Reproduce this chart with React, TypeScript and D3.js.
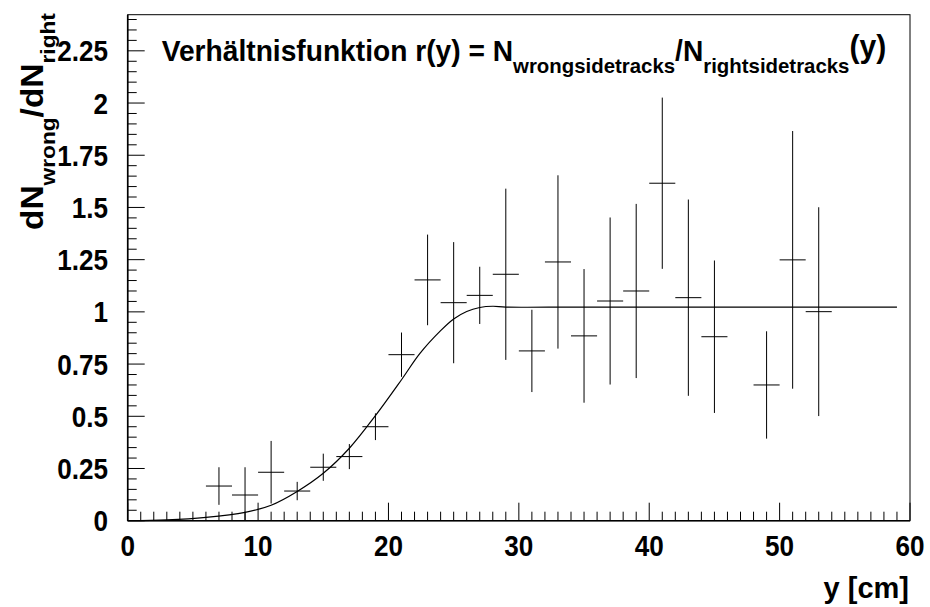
import React, { useLayoutEffect, useRef, useState } from 'react';
import * as d3 from 'd3';

// ---- data ----
const binCenters = [7, 9, 11, 13, 15, 17, 19, 21, 23, 25, 27, 29, 31, 33, 35, 37, 39, 41, 43, 45, 49, 51, 53];
const ratios = [0.166, 0.123, 0.232, 0.142, 0.256, 0.307, 0.45, 0.795, 1.153, 1.044, 1.079, 1.18, 0.813, 1.239, 0.885, 1.052, 1.1, 1.616, 1.068, 0.881, 0.65, 1.249, 1.001];
const ratioErrors = [0.09, 0.133, 0.15, 0.044, 0.065, 0.06, 0.064, 0.106, 0.217, 0.29, 0.137, 0.41, 0.197, 0.415, 0.32, 0.4, 0.417, 0.41, 0.47, 0.365, 0.257, 0.617, 0.5];
const binHalfWidth = 1;

const fitX = [0, 3, 6, 9, 11, 13, 15, 17, 19, 21, 22.4, 24, 25, 26, 27, 28, 29, 35, 59];
const fitY = [0, 0.004, 0.016, 0.04, 0.074, 0.14, 0.227, 0.347, 0.503, 0.675, 0.8, 0.91, 0.966, 1.002, 1.021, 1.027, 1.023, 1.023, 1.023];

const xTickValues = [0, 10, 20, 30, 40, 50, 60];
const xTickLabels = ['0', '10', '20', '30', '40', '50', '60'];
const yTickValues = [0, 0.25, 0.5, 0.75, 1, 1.25, 1.5, 1.75, 2, 2.25];
const yTickLabels = ['0', '0.25', '0.5', '0.75', '1', '1.25', '1.5', '1.75', '2', '2.25'];

const xDomain = [0, 60];
const yDomain = [0, 2.423];

const FONT = "'Liberation Sans', Arial, Helvetica, sans-serif";

function FitText(props: { x: number; y: number; width: number; rotate?: number; children: React.ReactNode }) {
  const ref = useRef<SVGTextElement>(null);
  const [s, setS] = useState(1);
  useLayoutEffect(() => {
    if (ref.current) {
      const w = ref.current.getBBox().width;
      if (w > 0) setS(props.width / w);
    }
  }, []);
  return (
    <g transform={`translate(${props.x},${props.y}) rotate(${props.rotate || 0}) scale(${s},1)`}>
      <text ref={ref} fontFamily={FONT} fontWeight="bold" fill="#000">
        {props.children}
      </text>
    </g>
  );
}

export default function App() {
  const W = 930, H = 607;
  const left = 127.7, right = 910, top = 14.7, bottom = 520.7;
  const x = d3.scaleLinear().domain(xDomain).range([left, right]);
  const y = d3.scaleLinear().domain(yDomain).range([bottom, top]);

  const xMinor = d3.range(0, 61, 1);
  const yMinor = d3.range(0, 2.4001, 0.05);

  const line = d3
    .line<number>()
    .x((_, i) => x(fitX[i]))
    .y((_, i) => y(fitY[i]))
    .curve(d3.curveCatmullRom.alpha(0.5));

  return (
    <svg width={W} height={H} style={{ position: 'absolute', left: 0, top: 0, background: '#fff' }}>
      <rect x={0} y={0} width={W} height={H} fill="#fff" />
      {/* frame */}
      <rect x={left} y={top} width={right - left} height={bottom - top} fill="none" stroke="#000" strokeWidth={1} />
      <line x1={left} x2={right} y1={bottom} y2={bottom} stroke="#000" strokeWidth={1.6} />
      <line x1={left} x2={left} y1={bottom} y2={top} stroke="#000" strokeWidth={1.6} />

      {/* x ticks */}
      {xMinor.map((v) => (
        <line key={'xm' + v} x1={x(v)} x2={x(v)} y1={bottom} y2={bottom - (v % 10 === 0 ? 18 : 9)} stroke="#000" strokeWidth={1} />
      ))}
      {/* y ticks */}
      {yMinor.map((v, i) => (
        <line key={'ym' + i} x1={left} x2={left + (i % 5 === 0 ? 17 : 9)} y1={y(v)} y2={y(v)} stroke="#000" strokeWidth={1} />
      ))}

      {/* x tick labels */}
      {xTickValues.map((v, i) => (
        <g key={'xl' + v} transform={`translate(${x(v)},556) scale(0.9,1)`}>
          <text textAnchor="middle" fontFamily={FONT} fontWeight="bold" fontSize={29}>
            {xTickLabels[i]}
          </text>
        </g>
      ))}
      {/* y tick labels */}
      {yTickValues.map((v, i) => (
        <g key={'yl' + v} transform={`translate(108,${y(v) + 10.5}) scale(0.9,1)`}>
          <text textAnchor="end" fontFamily={FONT} fontWeight="bold" fontSize={29}>
            {yTickLabels[i]}
          </text>
        </g>
      ))}

      {/* fit curve */}
      <path d={line(fitX) || ''} fill="none" stroke="#000" strokeWidth={1.2} />

      {/* data with error bars */}
      {binCenters.map((c, i) => {
        const v = ratios[i];
        const e = ratioErrors[i];
        const lo = Math.max(yDomain[0], v - e);
        const hi = Math.min(yDomain[1], v + e);
        return (
          <g key={'p' + c} stroke="#000" strokeWidth={1}>
            <line x1={x(c - binHalfWidth)} x2={x(c + binHalfWidth)} y1={y(v)} y2={y(v)} />
            <line x1={x(c)} x2={x(c)} y1={y(lo)} y2={y(hi)} />
          </g>
        );
      })}

      {/* title */}
      <FitText x={161.7} y={61} width={725}>
        <tspan fontSize={29}>Verhältnisfunktion r(y) = N</tspan>
        <tspan fontSize={21} dy={11.5}>wrongsidetracks</tspan>
        <tspan fontSize={29} dy={-11.5}>/N</tspan>
        <tspan fontSize={21} dy={11.5}>rightsidetracks</tspan>
        <tspan fontSize={31} dy={-15.5}>(y)</tspan>
      </FitText>

      {/* axis titles */}
      <g transform="translate(909,598)">
        <text textAnchor="end" fontFamily={FONT} fontWeight="bold" fontSize={29}>
          y [cm]
        </text>
      </g>
      <FitText x={43} y={230} width={217} rotate={-90}>
        <tspan fontSize={31}>dN</tspan>
        <tspan fontSize={21} dy={12}>wrong</tspan>
        <tspan fontSize={31} dy={-12}>/dN</tspan>
        <tspan fontSize={21} dy={12}>right</tspan>
      </FitText>
    </svg>
  );
}
